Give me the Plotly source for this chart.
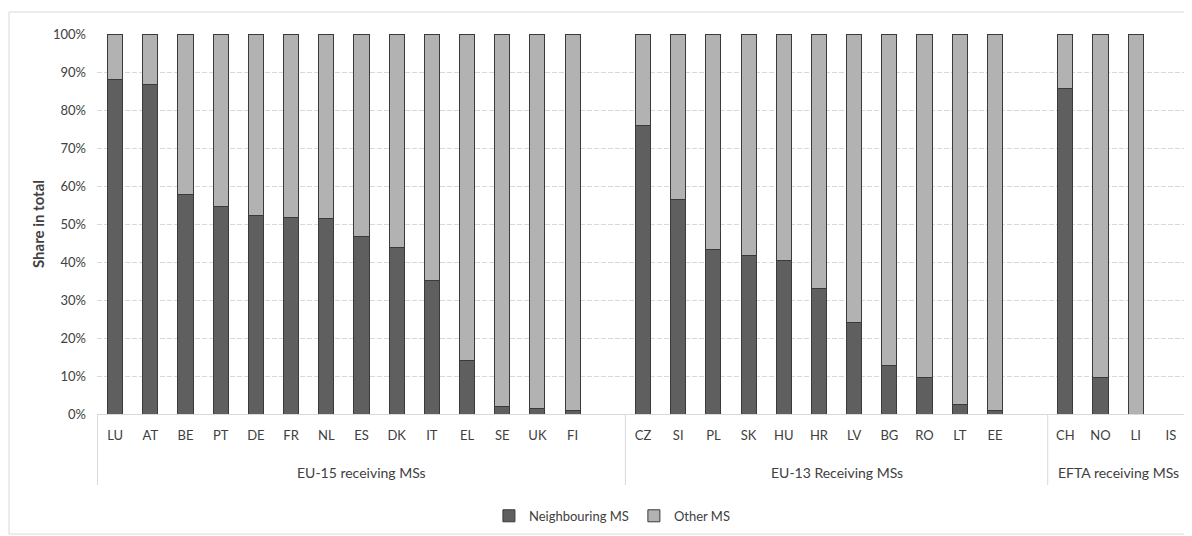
import plotly.graph_objects as go

# ---- data ----
groups = (["EU-15 receiving MSs"] * 15
          + ["EU-13 Receiving MSs"] * 12
          + ["EFTA receiving MSs"] * 4)
countries = ["LU", "AT", "BE", "PT", "DE", "FR", "NL", "ES", "DK", "IT", "EL", "SE", "UK", "FI", " ",
             "CZ", "SI", "PL", "SK", "HU", "HR", "LV", "BG", "RO", "LT", "EE", "  ",
             "CH", "NO", "LI", "IS"]
neighbouring = [87.9, 86.6, 57.7, 54.7, 52.3, 51.8, 51.5, 46.6, 43.8, 35.1, 14.2, 2.0, 1.5, 0.9, None,
                75.9, 56.4, 43.3, 41.7, 40.3, 33.0, 24.0, 12.8, 9.6, 2.6, 0.9, None,
                85.7, 9.7, 0.0, None]
other = [None if v is None else round(100 - v, 1) for v in neighbouring]
other[-1] = None  # IS: no data

series_names = ["Neighbouring MS", "Other MS"]
series_colors = ["#5f5f5f", "#b2b2b2"]
y_title = "Share in total"

FONT = "Lato, Carlito, Calibri, sans-serif"
TXT = "#404040"
LINE = "#d9d9d9"

fig = go.Figure()
for name, vals, col in zip(series_names, [neighbouring, other], series_colors):
    fig.add_trace(go.Bar(
        x=countries, y=vals, name=name,
        marker=dict(color=col, line=dict(color="#3a3a3a", width=1)),
    ))

# figure geometry (page body adds 8px offset)
FW, FH = 1184, 528
L, R, T, B = 89, 1181, 26, 406
W, H = R - L, B - T

# group spans from the data
spans = []
for i, g in enumerate(groups):
    if not spans or spans[-1][0] != g:
        spans.append([g, i, i])
    else:
        spans[-1][2] = i

annotations = []
shapes = []
for g, i0, i1 in spans:
    annotations.append(dict(text=g, xref="x", x=(i0 + i1) / 2, yref="paper", y=-0.155,
                            yanchor="middle", xanchor="center", showarrow=False,
                            font=dict(family=FONT, size=14, color=TXT)))
    shapes.append(dict(type="line", xref="x", x0=i0 - 0.5, x1=i0 - 0.5, yref="paper",
                       y0=0, y1=-0.187, line=dict(color=LINE, width=1)))
shapes.append(dict(type="line", xref="x", x0=spans[-1][2] + 0.5, x1=spans[-1][2] + 0.5,
                   yref="paper", y0=0, y1=-0.187, line=dict(color=LINE, width=1)))
# outer chart border
shapes.append(dict(type="rect", xref="paper", yref="paper",
                   x0=(1 - L) / W, x1=(1190 - L) / W,
                   y0=(B - 526) / H, y1=(B - 4) / H,
                   line=dict(color=LINE, width=1), fillcolor="rgba(0,0,0,0)", layer="below"))

fig.update_layout(
    width=FW, height=FH,
    barmode="stack", bargap=0.57,
    margin=dict(l=L, r=FW - R, t=T, b=FH - B),
    paper_bgcolor="white", plot_bgcolor="white",
    font=dict(family=FONT, size=13, color=TXT),
    showlegend=True,
    legend=dict(orientation="h", x=0.472, xanchor="center", y=-0.268, yanchor="middle",
                font=dict(family=FONT, size=13, color=TXT), traceorder="normal"),
    xaxis=dict(type="category", showline=True, linecolor=LINE, linewidth=1,
               showgrid=False, ticks="", ticklabelstandoff=9,
               tickfont=dict(family=FONT, size=13, color=TXT)),
    yaxis=dict(range=[0, 100], dtick=10, ticksuffix="%", showgrid=True,
               gridcolor=LINE, griddash="5px,2px", gridwidth=1, zeroline=False,
               showline=False, ticklabelstandoff=10,
               tickfont=dict(family=FONT, size=13, color=TXT),
               title=dict(text="<b>" + y_title + "</b>", standoff=4,
                          font=dict(family=FONT, size=15, color=TXT))),
    annotations=annotations,
    shapes=shapes,
)

fig.write_html("out.html")
